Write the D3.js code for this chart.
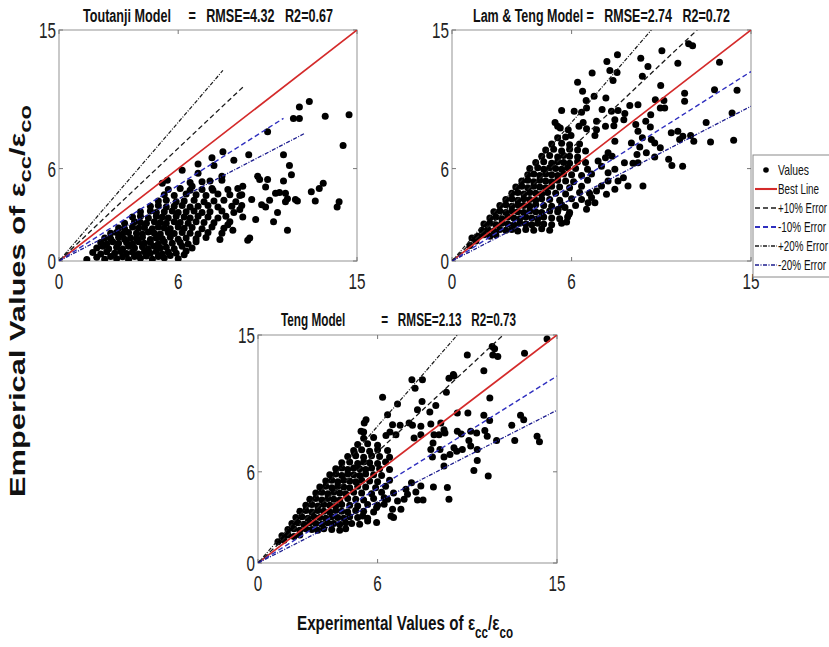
<!DOCTYPE html>
<html><head><meta charset="utf-8">
<script src="https://cdn.jsdelivr.net/npm/d3@7"></script>
<style>body{margin:0;background:#fff}svg{display:block}</style>
</head><body><svg id="c" width="829" height="647"></svg>
<script>
// ---------------- DATA ----------------
const tickValues = [0, 6, 15];
const panelTitles = [
  "Toutanji Model     =   RMSE=4.32   R2=0.67",
  "Lam & Teng Model =   RMSE=2.74   R2=0.72",
  "Teng Model           =   RMSE=2.13   R2=0.73"
];
const lineNames = ["Best Line", "+10% Error", "-10% Error", "+20% Error", "-20% Error"];
const lineSlopes = [1, 1.22, 0.82, 1.5, 0.67];
const toutanjiLineEnds = [15, 9.3, 11.3, 8.25, 12.35];
const lamTengLineEnds = [15, 12.3, 15, 10, 15];
const tengLineEnds = [15, 12.3, 15, 10, 15];

const toutanjiPts = [
[12.6,10.35],[12.1,10.0],[11.8,9.25],[12.1,9.25],[13.4,9.4],[14.6,9.5],[10.5,8.4],[14.3,7.5],
[7.7,6.7],[8.25,7.1],[9.55,6.9],[11.3,6.9],[11.6,6.2],[7.0,6.3],[7.8,6.2],[8.8,6.55],[6.2,5.9],[5.45,5.25],[5.2,5.05],
[10.0,5.5],[10.1,5.3],[10.5,5.3],[11.3,5.2],[11.7,5.6],[13.3,5.05],[13.1,4.7],[12.7,4.5],[14.1,3.85],[14.0,3.5],[12.9,3.9],
[11.9,4.0],[12.0,3.9],[11.5,4.05],[11.4,3.85],[10.9,4.4],[11.1,4.45],[11.4,4.4],[10.6,3.95],[10.4,3.5],[10.2,3.65],
[11.0,3.15],[10.8,2.55],[11.5,2.0],[9.9,2.7],[9.7,4.0],[10.4,4.8],[9.5,1.35],[9.6,1.5],[9.25,2.85],[9.1,3.35],
[8.75,2.0],[8.5,2.35],[8.2,5.25],[8.2,5.5],[7.6,5.2],[7.2,5.15],[6.6,5.1],[6.7,4.85],[7.0,5.7],[7.75,4.6],[8.5,4.65],
[9.0,4.7],[9.25,4.85],[9.2,4.3],
[1.4,0.1],[1.9,0.25],[2.3,0.12],[2.6,0.3],[2.9,0.15],[3.2,0.28],[3.5,0.1],[3.8,0.3],[4.1,0.18],[4.4,0.32],[4.7,0.12],[5.0,0.3],[5.3,0.2],[5.6,0.35],[6.0,0.15],[6.3,0.4],
[1.7,0.55],[2.1,0.45],[2.4,0.6],[2.8,0.5],[3.1,0.62],[3.4,0.48],[3.7,0.58],[4.0,0.45],[4.3,0.6],[4.6,0.5],[4.9,0.62],[5.2,0.45],[5.5,0.58],[5.9,0.5],[6.4,0.65],
[1.9,0.85],[2.2,0.95],[2.5,0.8],[2.9,0.9],[3.2,0.78],[3.5,0.95],[3.8,0.85],[4.2,0.92],[4.5,0.8],[4.8,0.95],[5.1,0.85],[5.4,0.9],[5.8,0.8],[6.2,0.95],[6.7,0.85],
[2.1,1.2],[2.4,1.1],[2.7,1.25],[3.0,1.15],[3.4,1.2],[3.7,1.1],[4.0,1.25],[4.3,1.15],[4.6,1.2],[5.0,1.1],[5.3,1.25],[5.7,1.15],[6.1,1.2],[6.5,1.1],[6.9,1.25],
[2.3,1.5],[2.6,1.45],[3.0,1.55],[3.3,1.42],[3.6,1.5],[3.9,1.45],[4.2,1.55],[4.6,1.4],[4.9,1.5],[5.2,1.45],[5.6,1.55],[6.0,1.42],[6.4,1.5],[6.9,1.45],[7.4,1.52],[8.1,1.4],
[2.6,1.8],[2.9,1.85],[3.2,1.75],[3.5,1.85],[3.9,1.8],[4.2,1.75],[4.5,1.88],[4.8,1.8],[5.1,1.75],[5.5,1.85],[5.8,1.78],[6.2,1.85],[6.6,1.8],[7.0,1.75],[7.5,1.85],[8.2,1.8],
[3.0,2.15],[3.3,2.1],[3.7,2.2],[4.0,2.12],[4.3,2.18],[4.7,2.1],[5.0,2.2],[5.3,2.15],[5.6,2.1],[6.0,2.2],[6.3,2.12],[6.7,2.18],[7.2,2.1],[7.7,2.2],[8.3,2.12],
[3.3,2.45],[3.8,2.55],[4.1,2.5],[4.4,2.45],[4.8,2.55],[5.1,2.5],[5.4,2.45],[5.8,2.55],[6.1,2.5],[6.5,2.45],[6.9,2.55],[7.3,2.5],[7.8,2.48],[8.6,2.55],
[3.7,2.85],[4.1,2.9],[4.5,2.8],[4.9,2.9],[5.2,2.85],[5.5,2.8],[5.9,2.9],[6.3,2.85],[6.6,2.8],[7.0,2.9],[7.5,2.85],[8.0,2.8],[8.4,2.9],
[4.1,3.2],[4.6,3.25],[4.9,3.15],[5.3,3.2],[5.7,3.25],[6.0,3.15],[6.4,3.2],[6.8,3.25],[7.2,3.15],[7.6,3.2],[8.2,3.25],[8.8,3.15],
[4.6,3.55],[5.0,3.6],[5.4,3.5],[5.8,3.55],[6.2,3.6],[6.6,3.5],[7.0,3.55],[7.5,3.6],[8.0,3.5],[8.7,3.55],[9.2,3.6],
[5.0,3.9],[5.4,3.95],[5.9,3.85],[6.3,3.9],[6.8,3.95],[7.3,3.85],[7.8,3.9],[8.3,3.95],[8.9,3.85],
[5.3,4.3],[5.8,4.25],[6.4,4.35],[6.9,4.3],[7.4,4.25],[8.0,4.35],[8.6,4.3],[9.1,4.25],
[5.5,4.65],[6.1,4.7],[6.6,4.6],[7.2,4.65],[7.7,4.7]
];

const lamTengPts = [
[8.3,13.4],[7.77,12.95],[9.47,13.16],[10.53,13.66],[11.87,14.1],[12.07,13.97],[9.83,12.63],[11.33,12.84],
[7.03,12.2],[7.92,12.37],[8.28,12.24],[8.08,11.72],[9.55,12.0],[6.3,11.6],[6.55,11.02],[6.73,10.43],[7.13,10.69],[7.72,10.58],
[13.42,12.9],[10.47,11.4],[10.2,10.47],[10.63,10.43],[13.17,11.12],[14.3,11.08],[11.67,10.9],[11.67,10.37],
[5.5,9.78],[6.13,9.72],[6.5,9.66],[6.75,9.94],[7.53,9.83],[8.0,9.72],[8.33,9.78],[8.67,9.57],[8.92,10.09],[9.33,10.15],[8.17,9.18],[8.62,9.18],
[7.25,9.07],[7.7,8.75],[8.12,8.79],[9.22,8.86],[9.72,9.07],[9.97,9.5],[10.45,9.94],[10.67,9.94],
[5.17,9.0],[5.3,8.75],[5.43,8.64],[6.37,8.75],[6.58,9.0],[6.75,8.58],[7.25,8.53],[7.17,8.15],[5.97,8.15],[5.83,8.53],
[9.33,8.43],[9.95,8.7],[9.55,8.0],[10.0,7.89],[9.42,7.41],[9.0,7.67],[8.17,7.78],[8.03,6.81],[7.83,7.03],
[11.0,8.32],[11.33,8.43],[11.58,8.1],[11.42,7.89],[11.97,8.15],[12.13,7.78],[12.75,9.0],[12.97,7.72],[14.13,7.84],[14.05,9.61],
[10.17,7.67],[10.45,7.35],[10.17,6.75],[10.87,6.6],[11.03,6.2],[11.57,6.16],[9.58,4.87],[8.83,4.87],[9.08,6.34],[8.65,6.38],[8.6,5.41],
[9.33,6.38],[9.75,7.03],[9.28,6.92],
[7.7,6.7],[7.33,6.49],[7.5,6.16],[7.83,5.73],[8.17,5.95],[8.33,5.19],[7.83,5.19],[7.5,4.87],[8.17,4.66],[7.75,4.33],[7.17,3.79],[6.75,3.36],[6.83,3.79],[7.0,4.12],[7.25,4.55],
[5.75,2.54],[5.87,3.04],[5.67,3.47],[5.33,3.36],
[0.9,1.0],[1.2,1.3],[1.0,1.5],
[1.3,1.6],[1.6,1.7],[1.9,1.6],[2.2,1.7],
[1.5,2.0],[1.8,2.05],[2.1,1.95],[2.4,2.05],[2.7,2.0],[3.0,2.05],[3.3,1.95],[3.7,2.05],[4.1,2.0],[4.5,2.1],[4.9,2.0],
[1.6,2.4],[1.9,2.45],[2.2,2.35],[2.5,2.45],[2.8,2.4],[3.1,2.35],[3.4,2.45],[3.7,2.4],[4.0,2.35],[4.3,2.45],[4.6,2.4],[5.0,2.35],[5.5,2.45],
[1.9,2.8],[2.2,2.85],[2.5,2.75],[2.8,2.85],[3.1,2.8],[3.4,2.75],[3.7,2.85],[4.0,2.8],[4.3,2.75],[4.6,2.85],[5.0,2.8],[5.4,2.75],[5.8,2.85],
[2.1,3.2],[2.4,3.25],[2.7,3.15],[3.0,3.25],[3.3,3.2],[3.6,3.15],[3.9,3.25],[4.2,3.2],[4.5,3.15],[4.9,3.25],[5.3,3.2],[5.9,3.15],
[2.4,3.6],[2.7,3.65],[3.0,3.55],[3.3,3.65],[3.6,3.6],[3.9,3.55],[4.2,3.65],[4.6,3.6],[5.0,3.55],[5.5,3.65],[6.2,3.6],
[2.7,4.0],[3.0,4.05],[3.3,3.95],[3.6,4.05],[3.9,4.0],[4.2,3.95],[4.5,4.05],[4.9,4.0],[5.4,3.95],[6.0,4.05],[6.5,4.0],
[3.0,4.4],[3.3,4.45],[3.6,4.35],[3.9,4.45],[4.2,4.4],[4.5,4.35],[4.8,4.45],[5.2,4.4],[5.7,4.35],[6.4,4.45],[6.9,4.4],
[3.2,4.8],[3.5,4.85],[3.8,4.75],[4.1,4.85],[4.4,4.8],[4.7,4.75],[5.0,4.85],[5.4,4.8],[5.9,4.75],[6.5,4.85],
[3.5,5.2],[3.8,5.25],[4.1,5.15],[4.4,5.25],[4.7,5.2],[5.0,5.15],[5.3,5.25],[5.7,5.2],[6.1,5.15],[6.8,5.25],
[3.8,5.6],[4.1,5.65],[4.4,5.55],[4.7,5.65],[5.0,5.6],[5.3,5.55],[5.6,5.65],[6.0,5.6],[6.5,5.55],[7.0,5.65],
[3.9,6.0],[4.3,6.05],[4.6,5.95],[4.9,6.05],[5.2,6.0],[5.5,5.95],[5.8,6.05],[6.2,6.0],[6.8,5.95],
[4.2,6.4],[4.6,6.45],[5.0,6.35],[5.3,6.45],[5.6,6.4],[5.9,6.35],[6.3,6.45],[6.7,6.4],
[4.5,6.8],[4.9,6.85],[5.3,6.75],[5.6,6.85],[5.9,6.8],[6.3,6.75],
[4.7,7.2],[5.1,7.25],[5.5,7.15],[5.9,7.25],[6.3,7.2],[6.7,7.15],
[5.0,7.6],[5.5,7.65],[5.9,7.55],[6.4,7.6],
[5.3,8.0],[5.7,8.05]
];

const tengPts = [
[14.5,14.74],[13.37,13.8],[11.75,14.24],[11.87,14.1],[11.78,13.69],[12.03,13.58],[10.5,13.69],[11.33,12.64],
[9.8,12.4],[9.58,12.16],[9.83,12.3],[7.72,12.05],[8.25,12.05],[7.88,11.5],
[9.45,11.24],[8.23,10.63],[8.92,10.37],[8.62,9.93],[8.0,10.09],[6.25,10.9],[7.0,10.46],[6.5,9.76],[11.63,10.85],
[10.0,9.87],[10.53,9.87],[11.33,9.72],[11.62,9.37],[13.17,9.72],[13.33,9.43],[12.73,9.06],[12.88,8.06],[14.0,8.34],[14.12,7.97],
[9.17,9.21],[8.67,9.15],[8.17,9.0],[7.75,9.06],[7.58,9.21],[7.13,9.06],[6.75,9.1],[6.62,8.62],[6.42,8.38],[6.92,8.44],[7.83,8.23],[8.17,8.44],[8.83,8.44],[9.08,8.44],[9.33,8.77],[9.38,8.55],
[10.0,8.67],[10.2,8.49],[10.67,8.67],[10.97,8.56],[11.38,8.71],[11.5,8.34],[11.97,8.06],[11.0,7.47],[10.67,7.69],[10.58,8.06],[9.83,7.58],[9.97,7.36],[10.25,7.47],
[8.78,7.9],[8.67,7.47],[9.13,7.47],[8.75,6.97],[9.33,6.97],[9.63,7.14],[9.33,6.38],
[11.0,6.75],[10.83,6.09],[11.55,5.72],[9.5,4.96],[9.58,4.19],
[8.8,5.0],[8.17,5.07],[7.92,4.67],[8.28,4.15],[8.0,4.15],[7.5,4.52],[7.33,4.19],[7.42,4.85],[7.7,5.28],
[7.0,4.08],[6.75,3.54],[6.67,3.1],[6.8,2.99],[7.17,3.54],[6.33,3.86],[6.33,4.3],[5.95,3.65],[5.95,2.66],[5.5,2.77],[5.25,3.1],
[5.42,9.43],[5.33,9.21],[5.17,8.67],[5.3,8.62],[4.83,7.25],
[1.0,1.4],[1.3,1.5],
[1.2,1.8],[1.5,1.85],[1.8,1.75],[2.1,1.85],
[1.5,2.2],[1.8,2.25],[2.1,2.15],[2.4,2.25],[2.7,2.2],[3.0,2.15],[3.3,2.25],[3.7,2.2],[4.1,2.15],[4.4,2.25],
[1.7,2.6],[2.0,2.65],[2.3,2.55],[2.6,2.65],[2.9,2.6],[3.2,2.55],[3.5,2.65],[3.8,2.6],[4.1,2.55],[4.4,2.65],[4.7,2.6],[5.1,2.55],
[1.9,3.0],[2.2,3.05],[2.5,2.95],[2.8,3.05],[3.1,3.0],[3.4,2.95],[3.7,3.05],[4.0,3.0],[4.3,2.95],[4.6,3.05],[5.0,3.0],[5.5,2.95],
[2.1,3.4],[2.4,3.45],[2.7,3.35],[3.0,3.45],[3.3,3.4],[3.6,3.35],[3.9,3.45],[4.2,3.4],[4.5,3.35],[4.9,3.45],[5.3,3.4],[5.8,3.35],
[2.4,3.8],[2.7,3.85],[3.0,3.75],[3.3,3.85],[3.6,3.8],[3.9,3.75],[4.2,3.85],[4.6,3.8],[5.0,3.75],[5.5,3.85],[6.0,3.8],
[2.6,4.2],[2.9,4.25],[3.2,4.15],[3.5,4.25],[3.8,4.2],[4.1,4.15],[4.5,4.25],[4.9,4.2],[5.3,4.15],[5.8,4.25],[6.5,4.2],
[2.9,4.6],[3.2,4.65],[3.5,4.55],[3.8,4.65],[4.1,4.6],[4.4,4.55],[4.8,4.65],[5.2,4.6],[5.7,4.55],[6.2,4.65],[6.8,4.6],
[3.1,5.0],[3.4,5.05],[3.7,4.95],[4.0,5.05],[4.3,5.0],[4.6,4.95],[5.0,5.05],[5.4,5.0],[5.9,4.95],[6.4,5.05],
[3.4,5.4],[3.7,5.45],[4.0,5.35],[4.3,5.45],[4.6,5.4],[4.9,5.35],[5.2,5.45],[5.6,5.4],[6.0,5.35],[6.6,5.45],
[3.6,5.8],[3.9,5.85],[4.2,5.75],[4.5,5.85],[4.8,5.8],[5.1,5.75],[5.4,5.85],[5.8,5.8],[6.2,5.75],
[3.9,6.2],[4.2,6.25],[4.5,6.15],[4.8,6.25],[5.1,6.2],[5.4,6.15],[5.7,6.25],[6.1,6.2],[6.6,6.15],
[4.2,6.6],[4.6,6.65],[5.0,6.55],[5.3,6.65],[5.6,6.6],[6.0,6.55],[6.4,6.65],
[4.5,7.0],[4.9,7.05],[5.3,6.95],[5.7,7.05],[6.1,7.0],[6.6,6.95],
[4.8,7.4],[5.2,7.45],[5.6,7.35],[6.0,7.45],[6.5,7.4],
[5.0,7.8],[5.5,7.85],[6.0,7.75],
[5.3,8.2],[5.8,8.25]
];

// ---------------- LAYOUT / STYLE ----------------
const layout = [
  {x:59, y:30, w:298, h:231, title:{x:83, y:22, len:250}},
  {x:452, y:30, w:299, h:231, title:{x:473, y:22, len:257}},
  {x:258, y:335, w:299, h:228, title:{x:281, y:326, len:235}}
];
const lineStyles = [
  {stroke:"#d42a2a", dash:null, w:1.7},
  {stroke:"#1a1a1a", dash:"5,3", w:1.3},
  {stroke:"#2f2fbf", dash:"5,3", w:1.4},
  {stroke:"#1a1a1a", dash:"4,1.5,1,1.5", w:1.2},
  {stroke:"#1d1d8f", dash:"4,1.5,1,1.5", w:1.3}
];
const panelData = [
  {pts: toutanjiPts, ends: toutanjiLineEnds},
  {pts: lamTengPts, ends: lamTengLineEnds},
  {pts: tengPts, ends: tengLineEnds}
];
const font = "'Liberation Sans', Arial, sans-serif";
const svg = d3.select("#c");
svg.append("rect").attr("width",829).attr("height",647).attr("fill","#fff");

layout.forEach((L, i) => {
  const d = panelData[i];
  const xs = d3.scaleLinear().domain([0,15]).range([L.x, L.x+L.w]);
  const ys = d3.scaleLinear().domain([0,15]).range([L.y+L.h, L.y]);
  const g = svg.append("g");
  g.append("rect").attr("x",L.x).attr("y",L.y).attr("width",L.w).attr("height",L.h)
    .attr("fill","#fff").attr("stroke","#a6a6a6").attr("stroke-width",1.2);
  tickValues.forEach(t => {
    g.append("line").attr("x1",xs(t)).attr("x2",xs(t)).attr("y1",L.y+L.h).attr("y2",L.y+L.h-4).attr("stroke","#777");
    g.append("line").attr("x1",xs(t)).attr("x2",xs(t)).attr("y1",L.y).attr("y2",L.y+4).attr("stroke","#777");
    g.append("line").attr("x1",L.x).attr("x2",L.x+4).attr("y1",ys(t)).attr("y2",ys(t)).attr("stroke","#777");
    g.append("line").attr("x1",L.x+L.w).attr("x2",L.x+L.w-4).attr("y1",ys(t)).attr("y2",ys(t)).attr("stroke","#777");
    const lab = String(t);
    const lw = lab.length === 2 ? 17 : 8.5;
    g.append("text").attr("x", L.x-3).attr("y", ys(t)+8).attr("text-anchor","end")
      .attr("font-family",font).attr("font-size",22).attr("fill","#222")
      .attr("textLength",lw).attr("lengthAdjust","spacingAndGlyphs").text(lab);
    g.append("text").attr("x", xs(t)).attr("y", L.y+L.h+28).attr("text-anchor","middle")
      .attr("font-family",font).attr("font-size",22).attr("fill","#222")
      .attr("textLength",lw).attr("lengthAdjust","spacingAndGlyphs").text(lab);
  });
  const clipId = "clip"+i;
  svg.append("clipPath").attr("id",clipId).append("rect")
    .attr("x",L.x).attr("y",L.y).attr("width",L.w).attr("height",L.h);
  const pg = g.append("g").attr("clip-path",`url(#${clipId})`);
  pg.selectAll("circle").data(d.pts).enter().append("circle")
    .attr("cx",p=>xs(p[0])).attr("cy",p=>ys(p[1])).attr("r",3.5).attr("fill","#000");
  lineSlopes.forEach((s, k) => {
    const xe = d.ends[k];
    pg.append("line").attr("x1",xs(0)).attr("y1",ys(0)).attr("x2",xs(xe)).attr("y2",ys(Math.min(15, s*xe)))
      .attr("stroke",lineStyles[k].stroke).attr("stroke-width",lineStyles[k].w)
      .attr("stroke-dasharray",lineStyles[k].dash);
  });
  g.append("text").attr("x",L.title.x).attr("y",L.title.y).attr("font-family",font)
    .attr("font-weight","bold").attr("font-size",17.5).attr("fill","#111")
    .attr("textLength",L.title.len).attr("lengthAdjust","spacingAndGlyphs")
    .style("white-space","pre").text(panelTitles[i]);
});

// y-axis label
const yl = svg.append("text").attr("transform","translate(25,301) rotate(-90)")
  .attr("text-anchor","middle").attr("font-family",font).attr("font-weight","bold")
  .attr("font-size",22).attr("fill","#111")
  .attr("textLength",392).attr("lengthAdjust","spacingAndGlyphs");
yl.append("tspan").text("Emperical Values of ε");
yl.append("tspan").attr("dy",6).attr("font-size",17).text("cc");
yl.append("tspan").attr("dy",-6).text("/ε");
yl.append("tspan").attr("dy",6).attr("font-size",17).text("co");

// x-axis label
const xl = svg.append("text").attr("x",297).attr("y",630)
  .attr("font-family",font).attr("font-weight","bold").attr("font-size",21).attr("fill","#111")
  .attr("textLength",216).attr("lengthAdjust","spacingAndGlyphs");
xl.append("tspan").text("Experimental Values of ε");
xl.append("tspan").attr("dy",8).attr("font-size",16).text("cc");
xl.append("tspan").attr("dy",-8).text("/ε");
xl.append("tspan").attr("dy",8).attr("font-size",16).text("co");

// legend
const lg = svg.append("g");
lg.append("rect").attr("x",753).attr("y",155).attr("width",90).attr("height",122)
  .attr("fill","#fff").attr("stroke","#8a8a8a").attr("stroke-width",1);
const legendNames = ["Values"].concat(lineNames);
const legendLens = [31, 41, 49, 48, 50, 48];
legendNames.forEach((name, k) => {
  const cy = 170 + k*19;
  if (k === 0) {
    lg.append("circle").attr("cx",766).attr("cy",cy).attr("r",2.8).attr("fill","#000");
  } else {
    const st = lineStyles[k-1];
    lg.append("line").attr("x1",755).attr("x2",777).attr("y1",cy).attr("y2",cy)
      .attr("stroke",st.stroke).attr("stroke-width",st.w+0.4).attr("stroke-dasharray",st.dash);
  }
  lg.append("text").attr("x",778).attr("y",cy+5).attr("font-family",font).attr("font-size",15)
    .attr("fill","#111").attr("textLength",legendLens[k]).attr("lengthAdjust","spacingAndGlyphs").text(name);
});
</script></body></html>
